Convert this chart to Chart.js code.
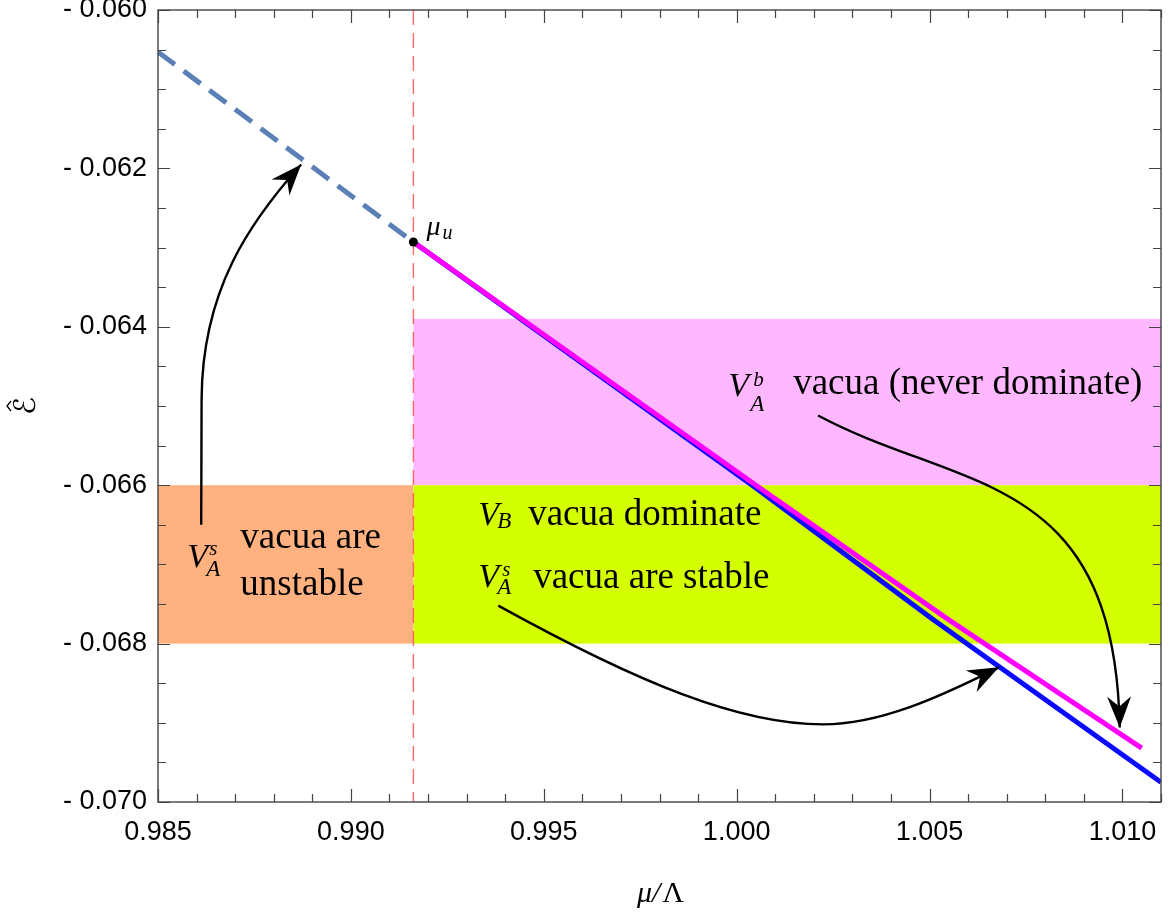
<!DOCTYPE html>
<html>
<head>
<meta charset="utf-8">
<script src="https://cdn.jsdelivr.net/npm/chart.js@4.4.1/dist/chart.umd.min.js"></script>
<style>
  html, body { margin: 0; padding: 0; background: #fff; }
  #wrap { width: 1172px; height: 920px; }
</style>
</head>
<body>
<div id="wrap"><canvas id="chart" width="1172" height="920"></canvas></div>
<script>
// Vacuum energy E-hat against mu/Lambda near the instability point mu_u
const xMin = 0.985, xMax = 1.011;
const yMin = -0.070, yMax = -0.060;

const muU = 0.99162;
const epsU = -0.06293;

// unstable continuation (dashed), left of mu_u
const unstableX = [0.985, muU];
const unstableY = [-0.06053, epsU];

// V_A^b branch (magenta)
const bigX = [muU, 1.0005, 1.0055, 1.0105];
const bigY = [epsU, -0.06600, -0.06770, -0.06932];

// V_A^s branch (blue)
const smallX = [muU, 1.0004, 1.0051, 1.011];
const smallY = [epsU, -0.06600, -0.06770, -0.06975];

// horizontal bands of E-hat
const neverBand = [-0.0639, -0.066];
const dominateBand = [-0.066, -0.068];

const xTicks = [0.985, 0.990, 0.995, 1.000, 1.005, 1.010];
const yTicks = [-0.070, -0.068, -0.066, -0.064, -0.062, -0.060];

// arrow paths, in axis units
const arrows = [
  [['M', 0.98612, -0.06650], ['L', 0.98613, -0.06492],
   ['C', 0.98614, -0.06353, 0.98739, -0.06267, 0.98871, -0.06195]],
  [['M', 1.00211, -0.06512],
   ['C', 1.00579, -0.06608, 1.00980, -0.06580, 1.00993, -0.06906]],
  [['M', 0.99382, -0.06752],
   ['C', 0.99750, -0.06851, 1.00009, -0.06902, 1.00224, -0.06902],
   ['C', 1.00371, -0.06902, 1.00524, -0.06868, 1.00680, -0.06830]]
];

// label anchors (left end / baseline of the calligraphic V)
const noteUnstable = [0.98576, -0.06703];
const noteDominate = [0.99330, -0.06650];
const noteStable = [0.99330, -0.06728];
const noteNever = [0.99978, -0.06488];

const zip = (xs, ys) => xs.map((x, i) => ({ x, y: ys[i] }));

const SERIF = "'Liberation Serif', 'Times New Roman', serif";
const SANS = "'Liberation Sans', Arial, sans-serif";

function put(ctx, txt, x, y, size, italic) {
  ctx.font = (italic ? 'italic ' : '') + size + 'px ' + SERIF;
  ctx.fillText(txt, x, y);
}

const bandsPlugin = {
  id: 'bands',
  beforeDatasetsDraw(chart) {
    const { ctx, scales: { x, y } } = chart;
    const rect = (x0, x1, y0, y1, c) => {
      const px0 = x.getPixelForValue(x0), px1 = x.getPixelForValue(x1);
      const py0 = y.getPixelForValue(y0), py1 = y.getPixelForValue(y1);
      ctx.fillStyle = c;
      ctx.fillRect(px0, py0, px1 - px0, py1 - py0);
    };
    ctx.save();
    rect(muU, xMax, neverBand[0], neverBand[1], '#ffb8ff');
    rect(muU, xMax, dominateBand[0], dominateBand[1], '#d4ff00');
    rect(xMin, muU, dominateBand[0], dominateBand[1], '#ffb180');
    ctx.restore();
  }
};

function drawArrow(ctx, x, y, path) {
  let last = null, prev = null;
  ctx.beginPath();
  path.forEach(seg => {
    const p = [];
    for (let i = 1; i < seg.length; i += 2) {
      p.push([x.getPixelForValue(seg[i]), y.getPixelForValue(seg[i + 1])]);
    }
    if (seg[0] === 'M') ctx.moveTo(p[0][0], p[0][1]);
    else if (seg[0] === 'L') ctx.lineTo(p[0][0], p[0][1]);
    else ctx.bezierCurveTo(p[0][0], p[0][1], p[1][0], p[1][1], p[2][0], p[2][1]);
    prev = p.length > 1 ? p[p.length - 2] : last;
    last = p[p.length - 1];
  });
  ctx.stroke();
  // stealth head
  const ang = Math.atan2(last[1] - prev[1], last[0] - prev[0]);
  const L = 31, W = 12, N = 21;
  const dx = Math.cos(ang), dy = Math.sin(ang);
  ctx.beginPath();
  ctx.moveTo(last[0], last[1]);
  ctx.lineTo(last[0] - L * dx - W * dy, last[1] - L * dy + W * dx);
  ctx.lineTo(last[0] - N * dx, last[1] - N * dy);
  ctx.lineTo(last[0] - L * dx + W * dy, last[1] - L * dy - W * dx);
  ctx.closePath();
  ctx.fill();
}

const notesPlugin = {
  id: 'notes',
  afterDatasetsDraw(chart) {
    const { ctx, chartArea: a, scales: { x, y } } = chart;
    const px = p => [x.getPixelForValue(p[0]), y.getPixelForValue(p[1])];
    ctx.save();
    ctx.fillStyle = '#000';
    ctx.strokeStyle = '#000';
    ctx.lineWidth = 2.4;
    ctx.textBaseline = 'alphabetic';
    ctx.textAlign = 'left';

    arrows.forEach(p => drawArrow(ctx, x, y, p));

    let [bx, by] = px(noteUnstable);
    put(ctx, 'V', bx, by, 34, true);
    put(ctx, 'A', bx + 19, by + 9, 23, true);
    put(ctx, 's', bx + 22, by - 12, 21, true);
    put(ctx, 'vacua are', bx + 53, by - 19, 37, false);
    put(ctx, 'unstable', bx + 53, by + 28, 37, false);

    [bx, by] = px(noteDominate);
    put(ctx, 'V', bx, by, 34, true);
    put(ctx, 'B', bx + 19, by + 3, 23, true);
    put(ctx, 'vacua dominate', bx + 50, by, 37, false);

    [bx, by] = px(noteStable);
    put(ctx, 'V', bx, by, 34, true);
    put(ctx, 'A', bx + 19, by + 7, 23, true);
    put(ctx, 's', bx + 24, by - 11, 21, true);
    put(ctx, 'vacua are stable', bx + 55, by + 1, 37, false);

    [bx, by] = px(noteNever);
    put(ctx, 'V', bx, by, 34, true);
    put(ctx, 'A', bx + 22, by + 15, 23, true);
    put(ctx, 'b', bx + 25, by - 10, 21, true);
    put(ctx, 'vacua (never dominate)', bx + 65, by - 2, 37, false);

    [bx, by] = px([muU, epsU]);
    put(ctx, '\u03bc', bx + 13, by - 7, 28, true);
    put(ctx, 'u', bx + 29, by - 3, 20, true);

    // axis titles
    const cx = (a.left + a.right) / 2;
    ctx.font = 'italic 30px ' + SERIF;
    const w1 = ctx.measureText('\u03bc/').width;
    ctx.font = '30px ' + SERIF;
    const w2 = ctx.measureText('\u039b').width;
    const sx = cx - (w1 + w2) / 2;
    put(ctx, '\u03bc/', sx, 902, 30, true);
    put(ctx, '\u039b', sx + w1 + 2, 902, 30, false);

    ctx.translate(24, (a.top + a.bottom) / 2);
    ctx.rotate(-Math.PI / 2);
    ctx.textAlign = 'center';
    ctx.font = "30px 'DejaVu Serif', 'DejaVu Sans', serif";
    ctx.fillText('\u2130', 0, 11);
    ctx.lineWidth = 1.3;
    ctx.beginPath();
    ctx.moveTo(-5, -13);
    ctx.lineTo(0, -17);
    ctx.lineTo(5, -13);
    ctx.stroke();
    ctx.restore();
  }
};

const framePlugin = {
  id: 'frame',
  afterDraw(chart) {
    const { ctx, chartArea: a, scales: { x, y } } = chart;
    ctx.save();
    ctx.strokeStyle = '#444';
    ctx.lineWidth = 1.4;
    ctx.strokeRect(a.left, a.top, a.right - a.left, a.bottom - a.top);
    ctx.lineWidth = 1.2;
    ctx.beginPath();
    for (let i = 0; i <= 26; i++) {
      const p = Math.round(x.getPixelForValue(xMin + i * 0.001)) + 0.5;
      const len = i % 5 === 0 ? 13 : 8;
      ctx.moveTo(p, a.bottom); ctx.lineTo(p, a.bottom - len);
      ctx.moveTo(p, a.top); ctx.lineTo(p, a.top + len);
    }
    for (let i = 0; i <= 20; i++) {
      const p = Math.round(y.getPixelForValue(yMin + i * 0.0005)) + 0.5;
      const len = i % 4 === 0 ? 12 : 8;
      ctx.moveTo(a.left, p); ctx.lineTo(a.left + len, p);
      ctx.moveTo(a.right, p); ctx.lineTo(a.right - len, p);
    }
    ctx.stroke();
    ctx.restore();
  }
};

new Chart(document.getElementById('chart'), {
  type: 'line',
  data: {
    datasets: [
      {
        data: [{ x: muU, y: epsU }],
        showLine: false,
        pointRadius: 4.5,
        pointBackgroundColor: '#000',
        pointBorderWidth: 0
      },
      {
        data: zip(bigX, bigY),
        borderColor: '#ff00ff',
        borderWidth: 5,
        pointRadius: 0
      },
      {
        data: zip(smallX, smallY),
        borderColor: '#0a0aff',
        borderWidth: 5,
        pointRadius: 0
      },
      {
        data: zip(unstableX, unstableY),
        borderColor: '#5b80b8',
        borderWidth: 5,
        borderDash: [21, 11],
        pointRadius: 0
      },
      {
        data: [{ x: muU, y: yMax }, { x: muU, y: yMin }],
        borderColor: 'rgba(255, 80, 80, 0.85)',
        borderWidth: 1.4,
        borderDash: [15, 8],
        pointRadius: 0
      }
    ]
  },
  options: {
    responsive: false,
    animation: false,
    layout: { padding: { left: 0, top: 10, right: 11, bottom: 0 } },
    plugins: { legend: { display: false }, tooltip: { enabled: false } },
    scales: {
      x: {
        type: 'linear',
        min: xMin,
        max: xMax,
        grid: { display: false, drawTicks: false },
        border: { display: false },
        afterBuildTicks: s => { s.ticks = xTicks.map(v => ({ value: v })); },
        afterFit: s => {
          s.height = 118;
          s.paddingLeft = 0;
          s.paddingRight = 0;
        },
        ticks: {
          autoSkip: false,
          maxRotation: 0,
          padding: 14,
          color: '#000',
          font: { family: SANS, size: 27 },
          callback: v => v.toFixed(3)
        }
      },
      y: {
        type: 'linear',
        min: yMin,
        max: yMax,
        grid: { display: false, drawTicks: false },
        border: { display: false },
        afterBuildTicks: s => { s.ticks = yTicks.map(v => ({ value: v })); },
        afterFit: s => {
          s.width = 158;
          s.paddingTop = 0;
          s.paddingBottom = 0;
        },
        ticks: {
          autoSkip: false,
          padding: 11,
          color: '#000',
          font: { family: SANS, size: 27 },
          callback: v => '- ' + Math.abs(v).toFixed(3)
        }
      }
    }
  },
  plugins: [bandsPlugin, notesPlugin, framePlugin]
});
</script>
</body>
</html>
